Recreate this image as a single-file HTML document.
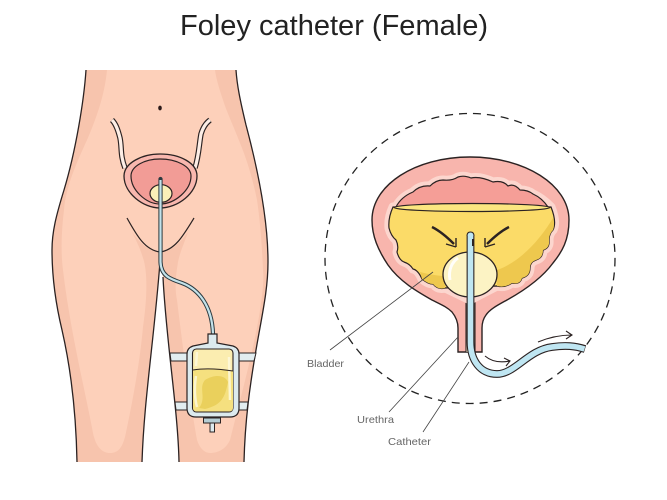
<!DOCTYPE html>
<html><head><meta charset="utf-8"><style>
html,body{margin:0;padding:0;background:#fff}
svg{display:block}
text{font-family:"Liberation Sans",sans-serif}
</style></head><body>
<svg width="667" height="500" viewBox="0 0 667 500" xmlns="http://www.w3.org/2000/svg">
<text x="180" y="35" font-size="29" fill="#222" textLength="308" lengthAdjust="spacingAndGlyphs">Foley catheter (Female)</text>

<!-- body: shaded base -->
<path d="M86 70 C84 100 76 150 64 190 C56 216 52 232 52 250 C52 280 56 305 62 330 C70 365 76 410 77 462 L142 462 C144 400 154 340 160 262 L163 277 C166 340 178 410 179 462 L244 462 C245 420 250 385 256 350 C262 315 268 290 268 262 C268 220 258 170 246 125 C240 100 237 85 236 70 Z" fill="#f7c4ad"/>
<!-- body: light area -->
<path d="M107 70 C105 90 100 110 87 140 C78 160 66 185 64 210 C61 235 61 255 63 270 C70 330 85 390 93 433 C96 448 103 453 110 453 C118 453 122 448 125 437 C134 395 140 360 143 327 C147 300 148 272 143 258 C140 248 136 240 132 232 C142 246 150 251 160 252 C170 251 178 246 188 232 C184 244 180 252 178 262 C175 280 175 290 177 300 C183 350 190 400 197 440 C200 449 205 453 210 453 C218 453 226 449 230 440 C240 400 255 345 260 310 C263 290 264 280 263 270 C262 245 260 220 257 200 C253 180 247 160 240 143 C233 125 226 110 223 100 C219 88 216 78 215 70Z" fill="#fdd0ba"/>
<path d="M86 70 C84 100 76 150 64 190 C56 216 52 232 52 250 C52 280 56 305 62 330 C70 365 76 410 77 462 M142 462 C144 400 154 340 160 262 M163 277 C166 340 178 410 179 462 M244 462 C245 420 250 385 256 350 C262 315 268 290 268 262 C268 220 258 170 246 125 C240 100 237 85 236 70" fill="none" stroke="#2b2222" stroke-width="1.300"/>
<ellipse cx="160" cy="108" rx="1.800" ry="2.400" fill="#2b1a1a"/>
<path d="M127 218 C137 236 145 250 160 252 C175 250 183 236 194 218" fill="none" stroke="#2b2222" stroke-width="1.200"/>

<!-- ureters -->
<path d="M125 168 C120 155 122 148 120 138 C118 130 116 124 112 120 M195 168 C199 155 199 145 201 134 C203 127 206 123 210 120" fill="none" stroke="#2b2222" stroke-width="5.500"/>
<path d="M125 168 C120 155 122 148 120 138 C118 130 116 124 112 120 M195 168 C199 155 199 145 201 134 C203 127 206 123 210 120" fill="none" stroke="#fdeee6" stroke-width="3.200"/>
<!-- small bladder -->
<path d="M124 176 C124 163 142 154 160 154 C180 154 197 163 197 176 C197 193 178 208 160 208 C143 208 124 193 124 176Z" fill="#f8b7ae" stroke="#2b2222" stroke-width="1.300"/>
<path d="M131 176 C131 166 145 159 160 159 C176 159 191 166 191 176 C191 190 175 204 160 204 C146 204 131 190 131 176Z" fill="#f29c96" stroke="#2b2222" stroke-width="1.200"/>
<ellipse cx="161" cy="193.500" rx="11" ry="8.800" fill="#fbf0b8" stroke="#2b2222" stroke-width="1.200"/>

<!-- tube -->
<path d="M160.500 179 L160.500 262 C161 276 170 279 182 283 C198 289 212 305 213 334" fill="none" stroke="#2b3a40" stroke-width="4.200" stroke-linecap="round"/>
<path d="M160.500 180 L160.500 262 C161 276 170 279 182 283 C198 289 212 305 213 334" fill="none" stroke="#c3e2ea" stroke-width="2.200"/>

<!-- straps -->
<path d="M170 353 H256 L254 361 H171Z M175 402 H248 L247 410 H176Z" fill="#e2edf0" stroke="#2b2222" stroke-width="1"/>
<!-- bag -->
<rect x="203.500" y="418" width="17" height="5" fill="#b5cdd4" stroke="#2b2222" stroke-width="1"/>
<rect x="210" y="423" width="4.500" height="9" fill="#dceaee" stroke="#2b2222" stroke-width="1"/>
<path d="M208 343 V334 H217 V343 L233 346 Q239 348 239 354 V408 Q239 417 230 417 H196 Q187 417 187 408 V354 Q187 348 193 346Z" fill="#dceaee" stroke="#2b2222" stroke-width="1.200"/>
<rect x="192.500" y="349" width="40.500" height="63" rx="4" fill="#fbedb0" stroke="#2b2222" stroke-width="1.100"/>
<path d="M193 370 C205 368 220 369 233 371 V408 Q233 411.500 229 411.500 H197 Q193 411.500 193 408Z" fill="#f5e07f"/>
<path d="M199 408 C207 398 198 388 205 380 C215 374 225 375 228 382 C225 397 222 405 205 409Z" fill="#ead05c"/>
<path d="M196 376 C194 388 195 400 197 407 M229 357 L230 400 M197 352 L196 366" stroke="#fdf8dc" stroke-width="2.500" fill="none" opacity=".85"/>
<path d="M193 370 C205 368 220 369 233 371" fill="none" stroke="#2b2222" stroke-width="1"/>

<!-- dashed circle -->
<circle cx="470" cy="258.500" r="145" fill="none" stroke="#222" stroke-width="1.300" stroke-dasharray="8 6"/>

<!-- big bladder -->
<path d="M470 157 C525 157 569 185 569 220 C569 240 562 252 553 263 C542 278 525 290 507 300 C498 305 490 309 486 315 C483 319 482 323 482 328 V352 H458 V328 C458 322 456 317 452 312 C447 307 442 305 432 300 C418 292 400 282 388 265 C378 250 372 236 372 220 C372 185 415 157 470 157Z" fill="#f8b5ad" stroke="#2b2222" stroke-width="1.400"/>
<path d="M466 352 V298 H475 V352" fill="#fde9c8" stroke="#2b2222" stroke-width="1.100"/>
<!-- pale band -->
<path d="M396 207 Q401 197 413 192 Q420 185 430 186 Q436 180 443 180 Q452 181 458 177 Q464 175 471 178 Q480 176 493 182 Q503 180 508 186 Q514 183 520 190 Q528 190 533 194 Q542 198 551 207 Q557 222 553 230 Q549 234 549 240 Q550 248 543 250 Q543 258 536 260 Q530 262 530 268 Q530 276 522 278 Q520 285 512 283 Q505 288 497 286 L470 300 L445 288 Q438 290 433 284 Q428 284 422 279 Q418 270 413 269 Q410 264 404 262 Q399 260 397 252 Q399 246 396 240 Q391 236 389 228 Q388 218 393 207Z" fill="#fcd6ce" stroke="#fcd6ce" stroke-width="9" stroke-linejoin="round"/>
<!-- pink top -->
<path d="M396 207 Q401 197 413 192 Q420 185 430 186 Q436 180 443 180 Q452 181 458 177 Q464 175 471 178 Q480 176 493 182 Q503 180 508 186 Q514 183 520 190 Q528 190 533 194 Q542 198 548 207Z" fill="#f59e97" stroke="#2b2222" stroke-width="1.200"/>
<!-- urine -->
<path d="M393 207 Q388 218 389 228 Q391 236 396 240 Q399 246 397 252 Q399 260 404 262 Q410 264 413 269 Q418 270 422 279 Q428 284 433 284 Q438 290 445 288 L497 286 Q505 288 512 283 Q520 285 522 278 Q530 276 530 268 Q530 262 536 260 Q543 258 543 250 Q550 248 549 240 Q549 234 553 230 Q557 222 551 207Z" fill="#fbdb68" stroke="#2b2222" stroke-width="1.200"/>
<path d="M497 270 C520 262 540 240 553 218 Q555 225 553 230 Q549 234 549 240 Q550 248 543 250 Q543 258 536 260 Q530 262 530 268 Q530 276 522 278 Q520 285 512 283 Q505 288 497 286Z M420 272 C428 274 438 276 444 276 L445 288 Q438 290 433 284 Q428 284 422 279Z" fill="#eec84e"/>
<ellipse cx="472" cy="207.500" rx="78" ry="4" fill="#fbe680" stroke="#2b2222" stroke-width="1.200"/>
<!-- arrows -->
<path d="M456 247 L446 244 M456 247 L456 238" fill="none" stroke="#2b2222" stroke-width="1.400"/>
<path d="M432 227 C442 232 450 240 454 244" fill="none" stroke="#2b2222" stroke-width="2.400"/>
<path d="M485 247 L495 244 M485 247 L485 238" fill="none" stroke="#2b2222" stroke-width="1.400"/>
<path d="M509 227 C499 232 491 240 487 244" fill="none" stroke="#2b2222" stroke-width="2.400"/>
<!-- balloon -->
<ellipse cx="470" cy="274.500" rx="27" ry="22.500" fill="#fcf3c4" stroke="#2b2222" stroke-width="1.300"/>
<path d="M450 280 C448 270 452 262 458 258" fill="none" stroke="#fff" stroke-width="3" opacity=".9"/>
<!-- catheter -->
<path d="M470.500 236 V342 C470.500 360 480 374 497 374 C515 374 528 350 552 347 C566 345 575 346 585 349" fill="none" stroke="#2b2222" stroke-width="7.800" stroke-linecap="butt"/>
<path d="M470.500 236 V342 C470.500 360 480 374 497 374 C515 374 528 350 552 347 C566 345 575 346 584.500 349" fill="none" stroke="#bfe6f2" stroke-width="5.600"/>
<path d="M467 236 Q467 232 470.500 232 Q474 232 474 236" fill="#bfe6f2" stroke="#2b2222" stroke-width="1.100"/>
<rect x="472" y="239" width="2" height="7" fill="#2b2222"/>
<path d="M485 356 C492 362 500 363 510 361 M504 358 L510 361 L506 366" fill="none" stroke="#2b2222" stroke-width="1.100"/>
<path d="M538 342 C550 337 560 335 572 335 M566 331 L572 335 L566 339" fill="none" stroke="#2b2222" stroke-width="1.100"/>
<!-- leaders -->
<path d="M433 272 L330 350 M458 337 L389 412 M469 362 L423 432" stroke="#444" stroke-width=".8" fill="none"/>
<g font-size="10.500" fill="#666">
<text x="307" y="367" textLength="37" lengthAdjust="spacingAndGlyphs">Bladder</text>
<text x="357" y="423" textLength="37" lengthAdjust="spacingAndGlyphs">Urethra</text>
<text x="388" y="445" textLength="43" lengthAdjust="spacingAndGlyphs">Catheter</text>
</g>
</svg>
</body></html>
